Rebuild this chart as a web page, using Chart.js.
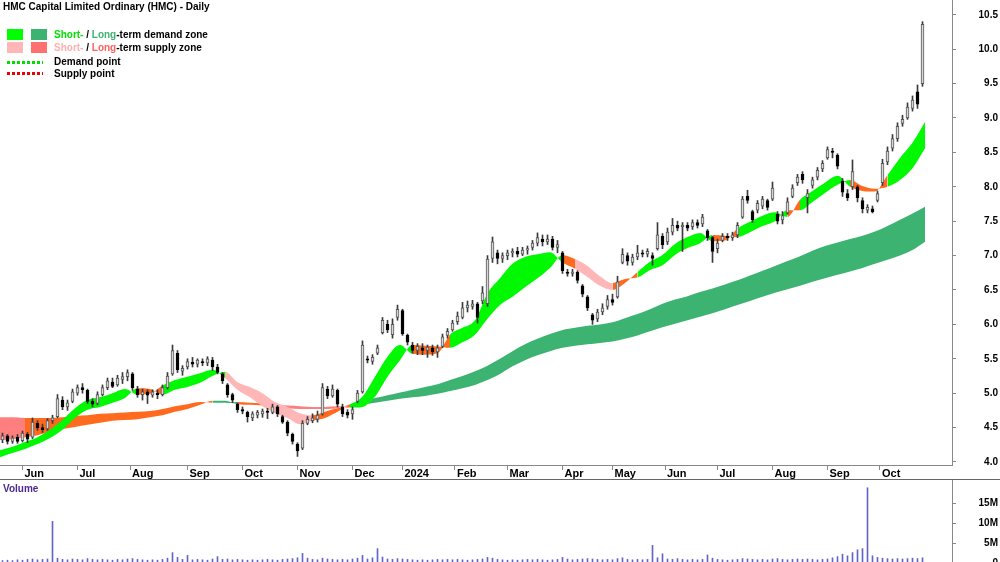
<!DOCTYPE html>
<html lang="en">
<head>
<meta charset="UTF-8">
<title>HMC Capital Limited Ordinary (HMC) - Daily</title>
<style>
    body {
        margin: 0;
        padding: 0;
        background: #fff;
        font-family: Arial, "Liberation Sans", sans-serif;
        overflow: hidden;
    }
    #wrap { position: relative; width: 1000px; height: 562px; overflow: hidden; }
    #priceBox { position: absolute; left: 0; top: 0; width: 1000px; height: 480px; }
    #volBox { position: absolute; left: 0; top: 479px; width: 1000px; height: 87px; border-top: 1px solid #666; }
    .title { position: absolute; left: 3px; top: 1px; font-size: 10px; font-weight: bold; color: #000; line-height: 12px; }
    .sw { position: absolute; width: 16px; height: 11px; }
    .dots { position: absolute; left: 7px; width: 36px; height: 3px; }
    .txt { position: absolute; left: 54px; font-size: 10px; font-weight: bold; color: #000; line-height: 12px; white-space: nowrap; }
    .volLabel { position: absolute; left: 3px; top: 483px; font-size: 10px; font-weight: bold; color: #4b2a8f; line-height: 12px; }
</style>
</head>
<body>
<div id="wrap">
    <div id="priceBox"><canvas id="price" width="1000" height="480"></canvas></div>
    <div id="volBox"><canvas id="vol" width="1000" height="86"></canvas></div>

    <div class="title">HMC Capital Limited Ordinary (HMC) - Daily</div>

    <div class="sw" style="left:7px;top:29px;background:#00ff00"></div>
    <div class="sw" style="left:31px;top:29px;background:#3cb371"></div>
    <div class="txt" style="top:29px"><span style="color:#00e000">Short-</span> / <span style="color:#3cb371">Long</span>-term demand zone</div>

    <div class="sw" style="left:7px;top:42px;background:#ffb6b6"></div>
    <div class="sw" style="left:31px;top:42px;background:#ff7070"></div>
    <div class="txt" style="top:42px"><span style="color:#ffb0b0">Short-</span> / <span style="color:#ff6060">Long</span>-term supply zone</div>

    <div class="dots" style="top:61px;background:repeating-linear-gradient(90deg,#00dd00 0 3px,transparent 3px 5px)"></div>
    <div class="txt" style="top:56px">Demand point</div>

    <div class="dots" style="top:72px;background:repeating-linear-gradient(90deg,#ee0000 0 3px,transparent 3px 5px)"></div>
    <div class="txt" style="top:68px">Supply point</div>

    <div class="volLabel">Volume</div>
</div>

<script src="https://cdn.jsdelivr.net/npm/chart.js"></script>
<script>
// price candles, one per two trading days (May 2023 - Oct 2024)
const opens = [
    4.32,4.38,4.30,4.36,4.31,4.40,4.36,4.56,4.50,4.48,
    4.60,4.66,4.90,4.80,4.88,5.00,5.08,5.04,4.88,4.85,
    4.98,5.08,5.16,5.12,5.20,5.24,5.28,5.06,4.98,5.02,
    4.97,5.00,4.98,5.08,5.28,5.58,5.32,5.38,5.45,5.42,
    5.46,5.44,5.48,5.38,5.28,5.12,4.98,4.84,4.76,4.72,
    4.64,4.68,4.70,4.74,4.72,4.80,4.66,4.58,4.40,4.26,
    4.20,4.56,4.60,4.62,4.70,5.06,4.96,5.04,4.80,4.72,
    4.70,4.88,5.02,5.50,5.46,5.58,5.88,6.00,5.85,6.10,
    6.20,5.84,5.70,5.62,5.66,5.62,5.66,5.60,5.68,5.84,
    5.92,6.04,6.10,6.24,6.26,6.30,6.34,6.30,6.96,7.04,
    6.96,7.00,7.04,7.06,7.02,7.08,7.12,7.18,7.24,7.20,
    7.24,7.12,7.04,6.76,6.74,6.76,6.56,6.40,6.14,6.08,
    6.18,6.26,6.36,6.40,6.90,7.00,6.90,6.98,7.04,7.02,
    7.00,7.10,7.28,7.20,7.34,7.44,7.42,7.44,7.42,7.48,
    7.46,7.36,7.26,7.10,7.22,7.28,7.26,7.30,7.56,7.86,
    7.64,7.66,7.72,7.80,7.82,7.60,7.52,7.62,7.86,8.06,
    8.18,7.84,8.02,8.14,8.26,8.42,8.52,8.46,8.08,7.90,
    8.00,8.00,7.80,7.66,7.68,7.80,8.06,8.36,8.56,8.70,
    8.92,9.00,9.14,9.38,9.50
];
const highs = [
    4.42,4.40,4.38,4.40,4.45,4.43,4.64,4.60,4.55,4.63,
    4.68,4.98,4.95,4.90,5.06,5.12,5.14,5.06,4.92,5.02,
    5.12,5.22,5.22,5.26,5.30,5.34,5.30,5.10,5.06,5.05,
    5.05,5.05,5.12,5.30,5.70,5.62,5.40,5.50,5.52,5.50,
    5.50,5.53,5.52,5.42,5.30,5.14,5.00,4.86,4.80,4.74,
    4.73,4.75,4.77,4.78,4.84,4.82,4.68,4.60,4.42,4.28,
    4.60,4.66,4.70,4.74,5.14,5.10,5.12,5.06,4.84,4.76,
    4.80,5.04,5.76,5.54,5.56,5.70,6.10,6.06,6.08,6.28,
    6.22,5.86,5.74,5.72,5.72,5.70,5.70,5.70,5.86,5.94,
    6.06,6.18,6.32,6.34,6.35,6.32,6.55,7.00,7.27,7.08,
    7.04,7.08,7.10,7.12,7.12,7.14,7.22,7.33,7.30,7.30,
    7.28,7.22,7.06,6.80,6.80,6.78,6.58,6.42,6.16,6.22,
    6.30,6.42,6.44,6.70,7.10,7.04,7.02,7.15,7.08,7.10,
    7.04,7.48,7.32,7.40,7.54,7.50,7.48,7.48,7.52,7.52,
    7.60,7.38,7.28,7.24,7.32,7.32,7.34,7.48,7.86,7.95,
    7.66,7.80,7.86,7.82,8.07,7.64,7.64,7.84,8.03,8.18,
    8.22,7.96,8.14,8.28,8.38,8.58,8.56,8.48,8.12,7.96,
    8.39,8.02,7.84,7.74,7.72,7.94,8.40,8.58,8.76,8.93,
    9.04,9.22,9.32,9.48,10.40
];
const lows = [
    4.28,4.26,4.27,4.27,4.29,4.28,4.34,4.46,4.43,4.46,
    4.56,4.64,4.76,4.75,4.86,4.97,5.00,4.85,4.80,4.83,
    4.96,5.05,5.08,5.10,5.14,5.18,5.04,4.94,4.90,4.85,
    4.94,4.92,4.96,5.06,5.26,5.30,5.26,5.35,5.38,5.38,
    5.40,5.40,5.33,5.28,5.14,4.94,4.86,4.72,4.70,4.58,
    4.60,4.64,4.65,4.63,4.70,4.66,4.56,4.38,4.26,4.08,
    4.18,4.54,4.57,4.58,4.68,4.92,4.94,4.80,4.66,4.64,
    4.62,4.86,5.00,5.44,5.42,5.56,5.86,5.88,5.80,6.06,
    5.84,5.70,5.58,5.56,5.56,5.52,5.55,5.52,5.66,5.80,
    5.90,6.00,6.08,6.18,6.22,6.02,6.30,6.26,6.90,6.88,
    6.90,6.94,6.98,6.98,7.00,7.02,7.08,7.14,7.14,7.16,
    7.08,7.04,6.74,6.70,6.70,6.60,6.40,6.20,6.00,6.04,
    6.14,6.22,6.28,6.38,6.88,6.86,6.86,6.94,6.98,6.98,
    6.86,7.08,7.10,7.16,7.30,7.36,7.06,7.36,7.38,7.40,
    7.42,7.22,6.90,7.04,7.20,7.22,7.22,7.26,7.54,7.76,
    7.48,7.62,7.68,7.66,7.80,7.46,7.46,7.60,7.84,8.02,
    8.05,7.62,7.98,8.10,8.22,8.40,8.42,8.26,7.86,7.80,
    7.96,7.78,7.62,7.62,7.62,7.78,8.02,8.32,8.52,8.66,
    8.88,8.98,9.10,9.14,9.46
];
const closes = [
    4.38,4.30,4.35,4.30,4.42,4.33,4.58,4.50,4.47,4.60,
    4.64,4.92,4.80,4.86,5.02,5.08,5.05,4.88,4.84,4.98,
    5.08,5.18,5.10,5.22,5.24,5.30,5.08,4.98,5.02,4.97,
    5.02,4.98,5.08,5.25,5.62,5.34,5.36,5.46,5.42,5.48,
    5.44,5.50,5.38,5.30,5.18,4.98,4.90,4.76,4.74,4.66,
    4.70,4.72,4.74,4.72,4.80,4.70,4.58,4.42,4.30,4.16,
    4.56,4.62,4.64,4.68,5.08,4.96,5.06,4.84,4.70,4.68,
    4.76,5.00,5.70,5.48,5.52,5.66,6.06,5.92,6.00,6.22,
    5.86,5.74,5.62,5.68,5.62,5.67,5.60,5.66,5.82,5.90,
    6.02,6.12,6.24,6.28,6.30,6.10,6.46,6.95,7.20,6.96,
    7.00,7.04,7.06,7.02,7.08,7.10,7.18,7.26,7.20,7.24,
    7.12,7.16,6.78,6.74,6.76,6.64,6.44,6.24,6.06,6.18,
    6.24,6.36,6.32,6.62,7.02,6.92,6.98,7.04,7.02,7.06,
    6.96,7.30,7.16,7.34,7.44,7.40,7.44,7.40,7.48,7.44,
    7.56,7.26,7.06,7.18,7.28,7.26,7.30,7.44,7.82,7.80,
    7.52,7.76,7.82,7.70,7.98,7.50,7.58,7.78,7.98,8.14,
    8.10,7.90,8.10,8.24,8.34,8.54,8.50,8.30,7.92,7.84,
    8.22,7.84,7.68,7.70,7.64,7.90,8.34,8.52,8.70,8.88,
    8.98,9.16,9.26,9.20,10.36
];
// volume in millions, same candles
const volumes = [
    0.6,0.7,0.6,0.8,0.7,0.9,1.0,0.8,0.9,1.0,
    10.4,1.2,0.9,0.8,1.0,0.9,0.8,1.1,0.9,0.8,
    0.9,0.8,0.7,0.9,0.8,1.0,1.1,0.9,0.8,0.7,
    0.8,0.7,0.9,1.2,2.6,1.4,0.9,1.9,0.8,0.9,
    0.8,0.7,1.0,1.6,0.9,1.0,0.8,0.9,0.8,0.7,
    0.8,0.7,0.8,0.9,0.8,0.7,0.9,1.0,1.1,1.3,
    2.4,1.2,0.9,0.8,1.2,1.0,0.9,0.8,0.9,0.8,
    1.0,1.2,1.9,1.0,1.3,3.6,1.5,1.0,0.9,1.1,
    1.0,0.9,0.8,0.7,0.8,0.7,0.8,0.9,0.8,0.9,
    0.8,0.9,0.8,0.7,0.8,0.9,1.0,1.4,1.2,0.9,
    0.8,0.7,0.8,0.7,0.8,0.9,0.8,0.9,0.8,0.7,
    0.8,0.9,1.4,1.0,0.8,0.9,1.0,1.1,1.0,0.9,
    0.8,0.9,0.8,1.1,1.3,0.9,0.8,0.9,0.8,0.9,
    4.4,1.3,2.3,1.0,0.9,1.1,0.9,0.8,0.9,0.8,
    0.9,2.0,1.2,0.9,0.8,0.7,0.8,0.9,1.1,1.0,
    0.9,0.8,0.9,0.8,1.0,1.1,0.9,0.8,0.9,1.0,
    0.9,1.0,0.9,0.8,0.9,1.0,1.3,1.6,2.2,1.8,
    2.6,3.3,3.6,18.8,1.8,1.4,1.2,1.1,1.0,1.1,
    1.0,1.1,1.2,1.1,1.3
];

// zone edges, sampled every 5 trading days
const stFast = [
    4.17,4.22,4.29,4.36,4.47,4.61,4.78,4.90,4.94,5.00,
    5.06,4.98,4.99,5.11,5.19,5.24,5.29,5.34,5.22,5.05,
    4.94,4.81,4.71,4.64,4.55,4.60,4.64,4.73,4.83,4.95,
    5.24,5.53,5.70,5.57,5.56,5.58,5.85,5.95,6.06,6.45,
    6.67,6.88,6.98,7.02,7.05,6.90,6.81,6.69,6.56,6.50,
    6.60,6.76,6.91,7.01,7.17,7.27,7.33,7.21,7.22,7.39,
    7.49,7.58,7.63,7.56,7.81,7.94,8.06,8.16,8.00,7.94,
    7.93,8.17,8.42,8.64,8.94
];
const stSlow = [
    4.07,4.13,4.19,4.26,4.35,4.47,4.64,4.76,4.80,4.86,
    4.93,5.07,5.06,4.98,5.05,5.09,5.15,5.25,5.31,5.16,
    5.09,5.00,4.87,4.80,4.71,4.68,4.73,4.78,4.79,4.80,
    4.95,5.24,5.48,5.70,5.69,5.68,5.66,5.74,5.85,6.08,
    6.28,6.40,6.54,6.67,6.82,7.01,6.95,6.85,6.70,6.60,
    6.66,6.68,6.79,6.86,7.01,7.11,7.18,7.30,7.29,7.27,
    7.34,7.43,7.50,7.66,7.66,7.78,7.91,8.03,8.10,8.01,
    7.97,8.00,8.10,8.27,8.56
];
const ltFast = [
    4.32,4.33,4.36,4.39,4.44,4.48,4.51,4.54,4.57,4.60,
    4.61,4.62,4.65,4.68,4.73,4.77,4.83,4.89,4.89,4.84,
    4.83,4.82,4.79,4.78,4.77,4.77,4.77,4.78,4.84,4.89,
    4.93,4.97,5.01,5.05,5.09,5.13,5.19,5.25,5.32,5.40,
    5.50,5.61,5.71,5.79,5.86,5.92,5.95,5.98,6.00,6.03,
    6.09,6.15,6.22,6.30,6.36,6.41,6.47,6.52,6.58,6.64,
    6.71,6.78,6.85,6.92,6.99,7.07,7.14,7.19,7.24,7.29,
    7.35,7.43,7.52,7.61,7.71
];
const ltSlow = [
    4.65,4.65,4.64,4.64,4.64,4.65,4.67,4.68,4.70,4.71,
    4.72,4.73,4.74,4.77,4.81,4.84,4.87,4.86,4.86,4.87,
    4.86,4.85,4.83,4.82,4.81,4.80,4.80,4.81,4.80,4.83,
    4.86,4.89,4.92,4.94,4.96,4.99,5.03,5.07,5.12,5.19,
    5.28,5.39,5.48,5.55,5.61,5.66,5.69,5.71,5.73,5.75,
    5.79,5.84,5.90,5.96,6.01,6.06,6.11,6.16,6.22,6.28,
    6.34,6.40,6.46,6.51,6.56,6.62,6.67,6.72,6.77,6.82,
    6.88,6.94,7.00,7.08,7.20
];

// month starts as trading-day index
const monthDays = [9, 31, 52, 75, 97, 119, 141, 161, 182, 203, 225, 245, 266, 287, 309, 331, 352];
const monthLabels = ['Jun','Jul','Aug','Sep','Oct','Nov','Dec','2024','Feb','Mar','Apr','May','Jun','Jul','Aug','Sep','Oct'];
const priceTicks = [4.0, 4.5, 5.0, 5.5, 6.0, 6.5, 7.0, 7.5, 8.0, 8.5, 9.0, 9.5, 10.0, 10.5];
const volTicks = [0, 5, 10, 15];

const xMax = 380.8;
const yMin = 3.956, yMax = 10.715;
const volMax = 20.75;

const colors = {
    stDemand: '#00f800',
    ltDemand: '#3cb371',
    orange: '#ff6a1f',
    stSupplyLight: '#ffb6b6',
    ltSupplyLight: '#ff7f7f'
};
// periods drawn in the lighter supply shade
const stLightDays = [[88, 122], [229, 244]];
const ltLightDays = [[0, 10], [108, 140]];

const candleDays = closes.map((_, k) => 2 * k + 1);
const bandDays = stFast.map((_, j) => j * 5);

function inRanges(d, ranges) {
    return ranges.some(([a, b]) => d >= a && d < b);
}
function stColor(ctx) {
    const i = ctx.p0DataIndex;
    if (stFast[i] >= stSlow[i]) return colors.stDemand;
    return inRanges(bandDays[i], stLightDays) ? colors.stSupplyLight : colors.orange;
}
function ltColor(ctx) {
    const i = ctx.p0DataIndex;
    if (ltFast[i] >= ltSlow[i]) return colors.ltDemand;
    return inRanges(bandDays[i], ltLightDays) ? colors.ltSupplyLight : colors.orange;
}

function bandLine(values, order, extra) {
    return Object.assign({
        type: 'line',
        data: bandDays.map((d, j) => ({ x: d, y: values[j] })),
        borderColor: 'transparent',
        borderWidth: 0,
        pointRadius: 0,
        cubicInterpolationMode: 'monotone',
        fill: false,
        order: order
    }, extra || {});
}

Chart.defaults.font.family = 'Arial, "Liberation Sans", sans-serif';
Chart.defaults.animation = false;

const isUp = i => closes[i] >= opens[i];

new Chart(document.getElementById('price'), {
    type: 'bar',
    data: {
        datasets: [
            {
                label: 'Body',
                data: candleDays.map((d, i) => ({ x: d, y: [opens[i], closes[i]] })),
                backgroundColor: ctx => isUp(ctx.dataIndex) ? '#d6d6d6' : '#000',
                borderColor: ctx => isUp(ctx.dataIndex) ? '#555' : '#000',
                borderWidth: 1,
                borderSkipped: false,
                barThickness: 3,
                minBarLength: 1,
                grouped: false,
                order: 0
            },
            {
                label: 'Range',
                data: candleDays.map((d, i) => ({ x: d, y: [lows[i], highs[i]] })),
                backgroundColor: '#3a3a3a',
                barThickness: 1,
                grouped: false,
                order: 1
            },
            bandLine(ltSlow, 4),
            bandLine(ltFast, 4, { fill: '-1', backgroundColor: colors.ltDemand, segment: { backgroundColor: ltColor } }),
            bandLine(stSlow, 3),
            bandLine(stFast, 3, { fill: '-1', backgroundColor: colors.stDemand, segment: { backgroundColor: stColor } })
        ]
    },
    options: {
        responsive: false,
        events: [],
        layout: { padding: { left: 0, right: 2, top: 0, bottom: 0 } },
        plugins: { legend: { display: false }, tooltip: { enabled: false } },
        scales: {
            x: {
                type: 'linear',
                min: 0,
                max: xMax,
                offset: false,
                grid: { display: true, drawOnChartArea: false, tickLength: 5, color: '#888', offset: false },
                border: { display: true, color: '#888' },
                afterBuildTicks: s => { s.ticks = monthDays.map(v => ({ value: v })); },
                ticks: {
                    autoSkip: false,
                    maxRotation: 0,
                    align: 'start',
                    padding: -3,
                    labelOffset: 2,
                    color: '#000',
                    font: { size: 11, weight: 'bold' },
                    callback: (v, i) => monthLabels[i]
                },
                afterFit: s => { s.height = 15; s.paddingLeft = 0; s.paddingRight = 0; }
            },
            y: {
                type: 'linear',
                position: 'right',
                min: yMin,
                max: yMax,
                grid: { drawOnChartArea: false, tickLength: 4, color: '#888' },
                border: { color: '#888' },
                afterBuildTicks: s => { s.ticks = priceTicks.map(v => ({ value: v })); },
                ticks: {
                    color: '#000',
                    crossAlign: 'far',
                    padding: 2,
                    font: { size: 10, weight: 'bold' },
                    callback: v => v.toFixed(1)
                },
                afterFit: s => { s.width = 46; s.paddingTop = 0; s.paddingBottom = 0; }
            }
        }
    }
});

new Chart(document.getElementById('vol'), {
    type: 'bar',
    data: {
        datasets: [{
            label: 'Volume',
            data: candleDays.map((d, i) => ({ x: d, y: volumes[i] })),
            backgroundColor: '#6464c8',
            barThickness: 1,
            grouped: false
        }]
    },
    options: {
        responsive: false,
        events: [],
        layout: { padding: { left: 0, right: 2, top: 0, bottom: 3 } },
        plugins: { legend: { display: false }, tooltip: { enabled: false } },
        scales: {
            x: { type: 'linear', min: 0, max: xMax, offset: false, display: false },
            y: {
                type: 'linear',
                position: 'right',
                min: 0,
                max: volMax,
                grid: { drawOnChartArea: false, tickLength: 4, color: '#888' },
                border: { color: '#888' },
                afterBuildTicks: s => { s.ticks = volTicks.map(v => ({ value: v })); },
                ticks: {
                    color: '#000',
                    crossAlign: 'far',
                    padding: 2,
                    font: { size: 10, weight: 'bold' },
                    callback: v => v ? v + 'M' : '0'
                },
                afterFit: s => { s.width = 46; s.paddingTop = 0; s.paddingBottom = 0; }
            }
        }
    }
});
</script>
</body>
</html>
